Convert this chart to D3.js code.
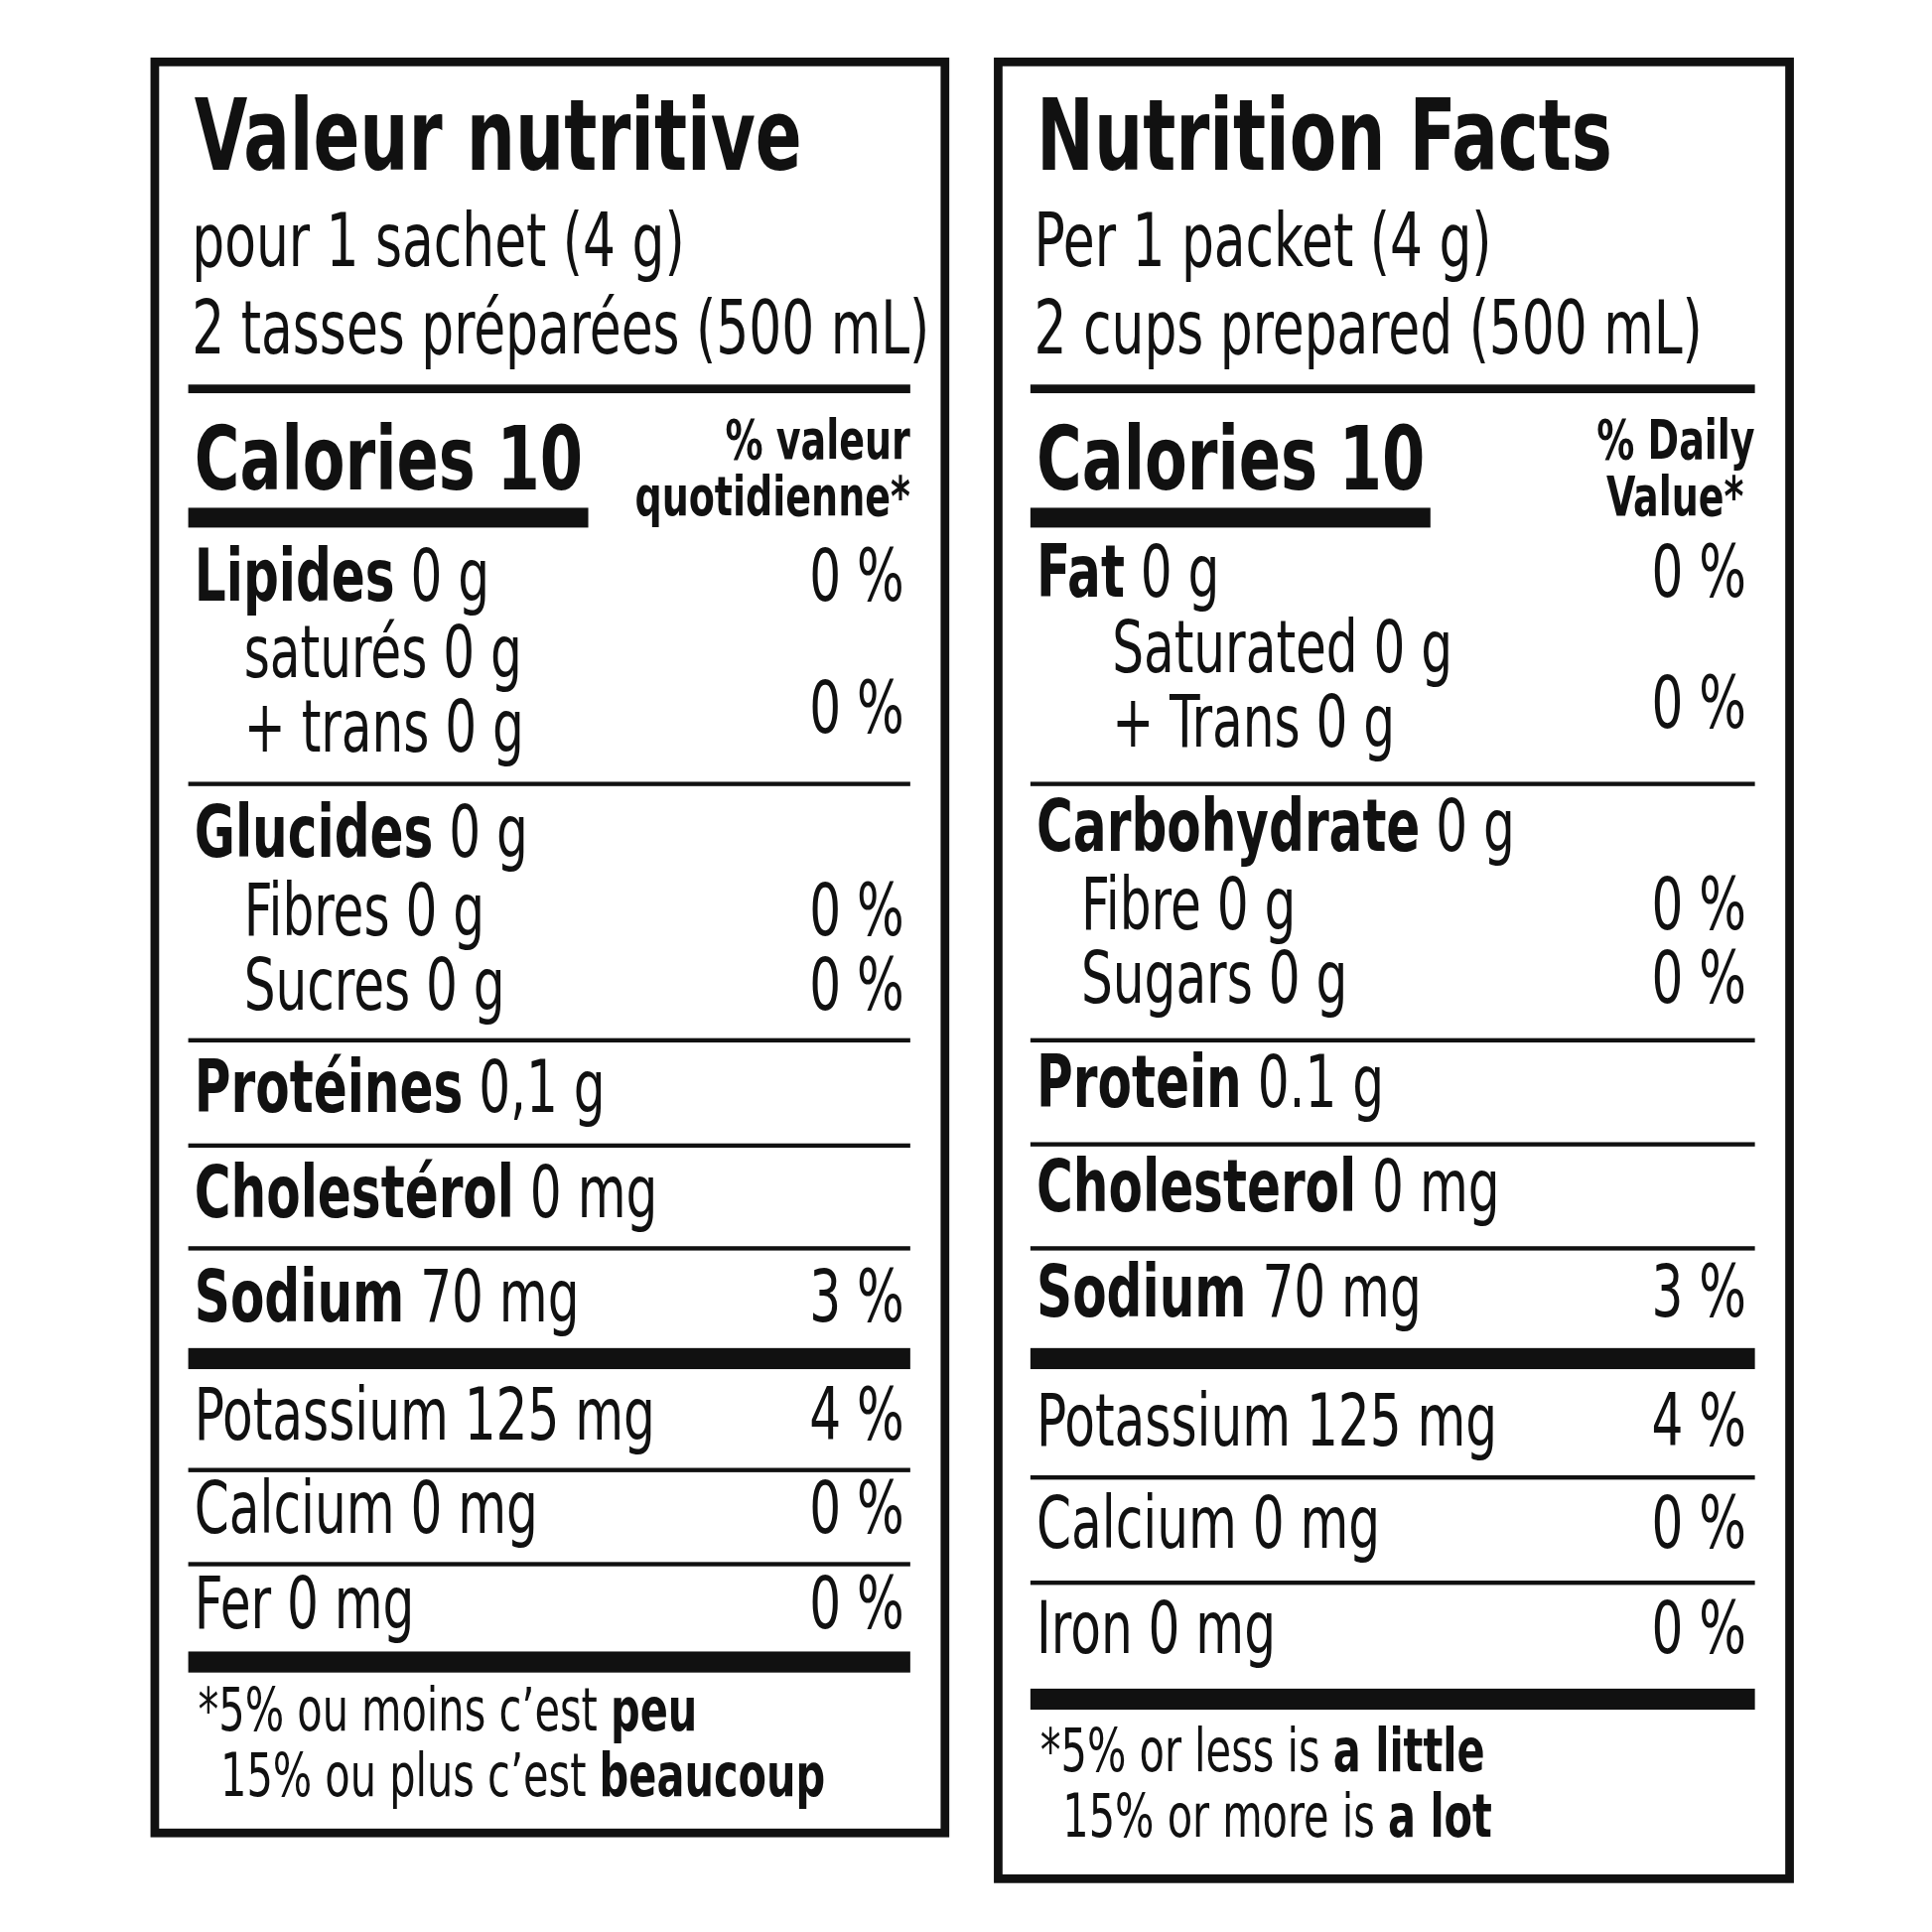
<!DOCTYPE html>
<html><head><meta charset="utf-8">
<script src="https://cdn.jsdelivr.net/npm/d3@7"></script>
<style>body{margin:0;background:#fff}text{font-family:"Liberation Sans Narrow","DejaVu Sans Condensed",sans-serif;fill:#111}</style>
</head><body><div id="board"></div>
<script>
// label content
const titles = ["Valeur nutritive", "Nutrition Facts"];
const serving = [["pour 1 sachet (4 g)", "2 tasses préparées (500 mL)"], ["Per 1 packet (4 g)", "2 cups prepared (500 mL)"]];
const calories = ["Calories 10", "Calories 10"];
const dvHead = [["% valeur", "quotidienne*"], ["% Daily", "Value*"]];
// rows: [bold part, regular part, %DV]
const rowsFr = [["Lipides", " 0 g", "0 %"], ["", "saturés 0 g", ""], ["", "+ trans 0 g", ""], ["Glucides", " 0 g", ""],
  ["", "Fibres 0 g", "0 %"], ["", "Sucres 0 g", "0 %"], ["Protéines", " 0,1 g", ""], ["Cholestérol", " 0 mg", ""],
  ["Sodium", " 70 mg", "3 %"], ["", "Potassium 125 mg", "4 %"], ["", "Calcium 0 mg", "0 %"], ["", "Fer 0 mg", "0 %"]];
const rowsEn = [["Fat", " 0 g", "0 %"], ["", "Saturated 0 g", ""], ["", "+ Trans 0 g", ""], ["Carbohydrate", " 0 g", ""],
  ["", "Fibre 0 g", "0 %"], ["", "Sugars 0 g", "0 %"], ["Protein", " 0.1 g", ""], ["Cholesterol", " 0 mg", ""],
  ["Sodium", " 70 mg", "3 %"], ["", "Potassium 125 mg", "4 %"], ["", "Calcium 0 mg", "0 %"], ["", "Iron 0 mg", "0 %"]];
const satDV = ["0 %", "0 %"];
const foot = [[["*5% ou moins c’est ", "peu"], ["15% ou plus c’est ", "beaucoup"]], [["*5% or less is ", "a little"], ["15% or more is ", "a lot"]]];

// layout (reference units, scaled below)
const k = 1946 / 1560;
const sx = 0.77; // horizontal condensing to match the narrow face
const s = d3.scaleLinear().domain([0, 1560]).range([0, 1946]);
const panels = [
  {box: [125, 50, 763, 1480], x0: 155, x1: 735, dvx: 730, indent: [0, 197, 197, 0, 197, 197, 0, 0, 0, 0, 0, 0],
   ys: [485, 547, 607, 692, 755, 815, 898, 983, 1067, 1162, 1238, 1315], satY: 572,
   thin: [633, 840, 925, 1008, 1187, 1263], thick: [1097, 1342], footY: [1397, 1450], footX: [160, 178], valX: 735},
  {box: [806, 50, 1445, 1517], x0: 835, x1: 1417, dvx: 1410, indent: [0, 898, 898, 0, 873, 873, 0, 0, 0, 0, 0, 0],
   ys: [482, 543, 603, 687, 750, 810, 894, 978, 1063, 1167, 1250, 1335], satY: 568,
   thin: [633, 840, 924, 1008, 1193, 1278], thick: [1097, 1372], footY: [1430, 1483], footX: [840, 858], valX: 1408}
];
const allRows = [rowsFr, rowsEn];

const svg = d3.select("#board").append("svg").attr("width", 1946).attr("height", 1946);

panels.forEach((p, i) => {
  const g = svg.append("g");
  g.append("rect").attr("x", s(p.box[0])).attr("y", s(p.box[1]))
    .attr("width", s(p.box[2] - p.box[0])).attr("height", s(p.box[3] - p.box[1]))
    .attr("fill", "none").attr("stroke", "#111").attr("stroke-width", 7 * k);
  const label = (x, y, size, anchor) => g.append("g")
    .attr("transform", `translate(${s(x)},${s(y)}) scale(${sx},1)`)
    .append("text").attr("font-size", size * k).attr("text-anchor", anchor || "start");
  const txt = (x, y, size, bold, str, anchor) => label(x, y, size, anchor)
    .attr("font-weight", bold ? "bold" : "normal").text(str);
  txt(p.x0 + 2, 137, 80, true, titles[i]);
  txt(p.x0, 215, 60, false, serving[i][0]);
  txt(p.x0, 285, 60, false, serving[i][1]);
  const hline = (y, h, x1) => g.append("rect").attr("x", s(p.x0 - 3)).attr("y", s(y - h / 2))
    .attr("width", s((x1 || p.x1) - p.x0 + 3)).attr("height", s(h)).attr("fill", "#111");
  hline(314, 7);
  txt(p.x0 + 2, 395, 72, true, calories[i]);
  hline(418, 16, p.x0 + 320);
  txt(p.x1, 370, 44, true, dvHead[i][0], "end");
  txt(p.valX, 416, 44, true, dvHead[i][1], "end");
  allRows[i].forEach((r, j) => {
    const t = label(p.indent[j] || p.x0 + 2, p.ys[j], 58);
    if (r[0]) t.append("tspan").attr("font-weight", "bold").text(r[0]);
    t.append("tspan").text(r[1]);
    if (r[2]) txt(p.dvx, p.ys[j], 58, false, r[2], "end");
  });
  txt(p.dvx, p.satY + 20, 58, false, satDV[i], "end");
  p.thin.forEach(y => hline(y, 3.5));
  p.thick.forEach(y => hline(y, 17));
  foot[i].forEach((f, j) => {
    const t = label(p.footX[j], p.footY[j], 48);
    t.append("tspan").text(f[0]);
    t.append("tspan").attr("font-weight", "bold").text(f[1]);
  });
});
</script></body></html>
